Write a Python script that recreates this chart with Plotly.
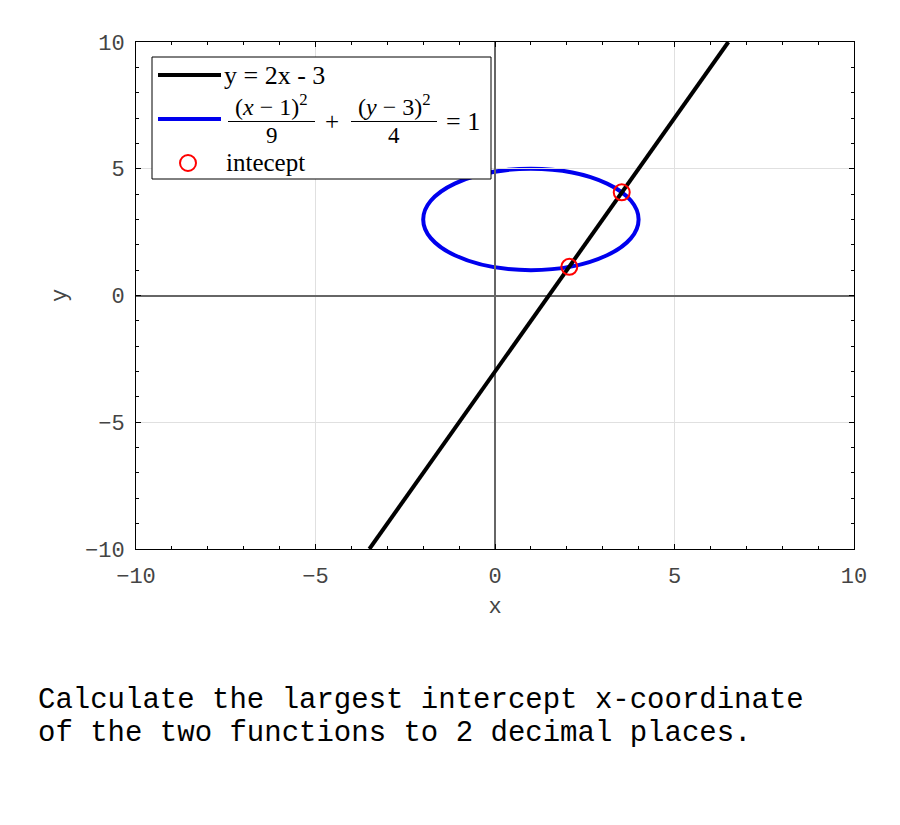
import plotly.graph_objects as go

# ---- data ----
line_x = [-3.5, 6.5]          # y = 2x - 3 endpoints at the plot edges
line_y = [-10, 10]
ellipse_x = [-2, 4]           # horizontal extent of the ellipse
ellipse_y = [1, 5]            # vertical extent of the ellipse
int_x = [2.07, 3.53]          # intercept points
int_y = [1.13, 4.07]
tick_vals = [-10, -5, 0, 5, 10]
tick_text = ["\u221210", "\u22125", "0", "5", "10"]

# ---- layout geometry (screen pixels; page has an 8px body margin) ----
W, H = 900, 825
OFF = 8
L, R, T, B = 136, 854, 42, 549


def px(x):
    return (x - L) / (R - L)


def py(y):
    return (B - y) / (B - T)


MONO = "Liberation Mono"
SERIF = "Liberation Serif"

fig = go.Figure()

fig.add_trace(go.Scatter(x=line_x, y=line_y, mode="lines",
                         line=dict(color="black", width=4), showlegend=False,
                         hoverinfo="skip"))
fig.add_trace(go.Scatter(x=int_x, y=int_y, mode="markers",
                         marker=dict(symbol="circle-open", size=16,
                                     color="red", line=dict(width=2)),
                         showlegend=False, hoverinfo="skip"))

# ellipse (drawn through the data axes)
fig.add_shape(type="circle", xref="x", yref="y",
              x0=ellipse_x[0], x1=ellipse_x[1], y0=ellipse_y[0], y1=ellipse_y[1],
              line=dict(color="#0000ee", width=4), layer="below")

# ---- custom legend ----
fig.add_shape(type="rect", xref="paper", yref="paper",
              x0=px(152), x1=px(491), y0=py(179), y1=py(57),
              line=dict(color="black", width=1), fillcolor="white", layer="above")
fig.add_shape(type="line", xref="paper", yref="paper",
              x0=px(158), x1=px(221), y0=py(75), y1=py(75),
              line=dict(color="black", width=4), layer="above")
fig.add_shape(type="line", xref="paper", yref="paper",
              x0=px(158), x1=px(221), y0=py(119), y1=py(119),
              line=dict(color="#0000ee", width=4), layer="above")
fig.add_shape(type="circle", xref="paper", yref="paper",
              xsizemode="pixel", ysizemode="pixel",
              xanchor=px(188), yanchor=py(163),
              x0=-8, x1=8, y0=-8, y1=8,
              line=dict(color="red", width=2), layer="above")
# fraction bars
fig.add_shape(type="line", xref="paper", yref="paper",
              x0=px(228), x1=px(315), y0=py(121.5), y1=py(121.5),
              line=dict(color="black", width=1), layer="above")
fig.add_shape(type="line", xref="paper", yref="paper",
              x0=px(351), x1=px(437), y0=py(121.5), y1=py(121.5),
              line=dict(color="black", width=1), layer="above")


def ann(text, x, y, size=26, xanchor="center", font=SERIF, color="black"):
    fig.add_annotation(text=text, xref="paper", yref="paper",
                       x=px(x), y=py(y), xanchor=xanchor, yanchor="middle",
                       showarrow=False, borderpad=0,
                       font=dict(family=font, size=size, color=color))


ann("y = 2x - 3", 223, 75, xanchor="left")
ann("(<i>x</i> \u2212 1)<sup>2</sup>", 271.5, 105, size=24)
ann("9", 271.5, 136, size=23)
ann("+", 332, 121, size=25)
ann("(<i>y</i> \u2212 3)<sup>2</sup>", 394, 105, size=24)
ann("4", 394, 136, size=23)
ann("= 1", 445, 121, xanchor="left")
ann("intecept", 225, 162, size=25, xanchor="left")

# ---- question text ----
ann("Calculate the largest intercept x-coordinate", 37, 700, size=29,
    xanchor="left", font=MONO)
ann("of the two functions to 2 decimal places.", 37, 734, size=29,
    xanchor="left", font=MONO)

axis_common = dict(
    range=[-10, 10], tickvals=tick_vals, ticktext=tick_text,
    showline=True, linecolor="black", linewidth=1, mirror="ticks",
    ticks="inside", ticklen=5, tickcolor="black", tickwidth=1,
    showgrid=True, gridcolor="#e0e0e0", gridwidth=1,
    zeroline=True, zerolinecolor="#666666", zerolinewidth=1.5,
    minor=dict(dtick=1, ticks="inside", ticklen=3, tickcolor="black",
               showgrid=False),
    tickfont=dict(family=MONO, size=22, color="#444444"),
    title_font=dict(family=MONO, size=22, color="#444444"),
    fixedrange=True,
)

fig.update_layout(
    width=W, height=H,
    margin=dict(l=L - OFF, r=W - R + OFF, t=T - OFF, b=H - B + OFF),
    plot_bgcolor="white", paper_bgcolor="white",
    showlegend=False,
    xaxis=dict(axis_common, ticklabelstandoff=7,
               title=dict(text="x", standoff=8)),
    yaxis=dict(axis_common, ticklabelstandoff=6,
               title=dict(text="y", standoff=12)),
)

fig.write_html("out.html")
